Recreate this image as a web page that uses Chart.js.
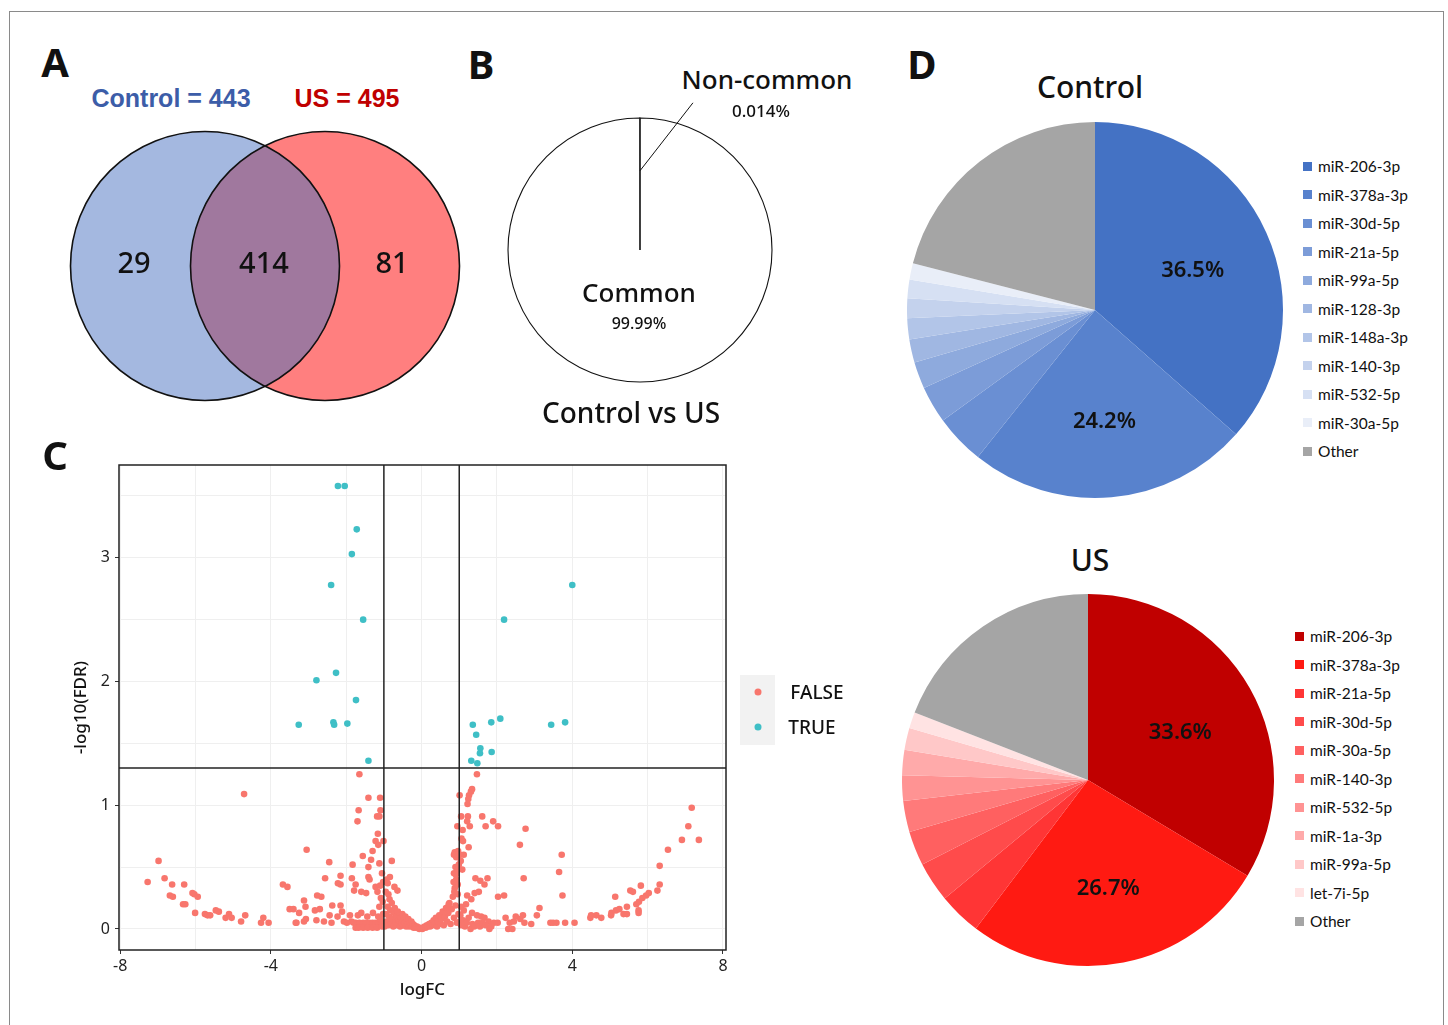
<!DOCTYPE html>
<html>
<head>
<meta charset="utf-8">
<script src="https://cdn.jsdelivr.net/npm/chart.js@4.4.1/dist/chart.umd.min.js"></script>
<style>
  body { margin: 0; width: 1448px; height: 1025px; background: #fff; position: relative; overflow: hidden;
         font-family: 'Noto Sans', sans-serif; color: #111; }
  .frame { position: absolute; left: 9px; top: 11px; width: 1433px; height: 1040px; border: 1px solid #8a8a8a; }
  .t { position: absolute; transform: translate(-50%, -50%); white-space: nowrap; line-height: 1; }
  .panel { font-weight: 700; font-size: 40px; }
  canvas { position: absolute; }
  .pie-legend { position: absolute; font-family: Lato, sans-serif; font-size: 15.5px; color: #111; }
  .pie-legend div { height: 28.5px; display: flex; align-items: center; }
  .pie-legend .sw { width: 9px; height: 9px; margin-right: 6px; display: inline-block; }
  .vol-legend { position: absolute; left: 740px; top: 675px; width: 35px; height: 70px; background: #f2f2f2; }
  .dot { position: absolute; width: 7px; height: 7px; border-radius: 50%; transform: translate(-50%, -50%); }
</style>
</head>
<body>
<div class="frame"></div>

<canvas id="venn" width="450" height="300" style="left:40px; top:116px"></canvas>
<canvas id="share" width="300" height="300" style="left:490px; top:100px"></canvas>
<canvas id="volcano" width="760" height="580" style="left:40px; top:440px"></canvas>
<canvas id="pieControl" width="400" height="400" style="left:895px; top:110px"></canvas>
<canvas id="pieUS" width="400" height="400" style="left:888px; top:580px"></canvas>

<div class="t panel" style="left:55px; top:62px">A</div>
<div class="t panel" style="left:481px; top:64px">B</div>
<div class="t panel" style="left:55px; top:455px">C</div>
<div class="t panel" style="left:922px; top:64px">D</div>

<div class="t" style="left:171px; top:98px; font:700 25px 'Liberation Sans', sans-serif; color:#3c5da8">Control = 443</div>
<div class="t" style="left:347px; top:98px; font:700 25px 'Liberation Sans', sans-serif; color:#c00000">US = 495</div>

<div class="t" style="left:767px; top:79px; font-size:26px; font-weight:500">Non-common</div>
<div class="t" style="left:761px; top:110px; font-size:17px; font-weight:500">0.014%</div>
<div class="t" style="left:639px; top:292px; font-size:26px; font-weight:500">Common</div>
<div class="t" style="left:639px; top:323px; font-size:16px; font-weight:500">99.99%</div>
<div class="t" style="left:631px; top:412px; font-size:28px; font-weight:500">Control vs US</div>

<div class="vol-legend"></div>
<div class="dot" style="left:758px; top:692px; background:#f8766d"></div>
<div class="dot" style="left:758px; top:727px; background:#3fbfc6"></div>
<div class="t" style="left:817px; top:692px; font-size:19px; font-weight:500">FALSE</div>
<div class="t" style="left:812px; top:727px; font-size:19px; font-weight:500">TRUE</div>

<div class="t" style="left:1090px; top:87px; font-size:30px; font-weight:500">Control</div>
<div class="t" style="left:1090px; top:560px; font-size:30px; font-weight:500">US</div>

<div id="legControl" class="pie-legend" style="left:1303px; top:152px"></div>
<div id="legUS" class="pie-legend" style="left:1295px; top:622px"></div>

<script>
// ---- A: Venn of detected miRNAs
const vennCentres = [-60, 60];          // Control, US
const vennCounts = ['29', '414', '81']; // only Control, both, only US
const vennCountX = [-131, -1, 127];

// ---- B: share of common vs non-common reads
const shareLabels = ['Common', 'Non-common'];
const shareValues = [99.986, 0.014];

// ---- C: volcano, [logFC, -log10(FDR)]
const sigPoints = [
  [-2.22, 3.58], [-2.04, 3.58], [-1.72, 3.23], [-1.85, 3.03], [-2.40, 2.78], [-1.55, 2.50],
  [-2.27, 2.07], [-2.79, 2.01], [-1.74, 1.85], [-3.26, 1.65], [-2.34, 1.67], [-2.32, 1.65],
  [-1.97, 1.66], [-1.41, 1.36],
  [2.19, 2.50], [4.00, 2.78], [1.36, 1.65], [1.85, 1.67], [2.09, 1.70], [1.45, 1.57],
  [1.56, 1.46], [1.55, 1.42], [1.86, 1.43], [1.32, 1.36], [1.48, 1.34], [3.44, 1.65], [3.81, 1.67]
];
const notSigPoints = [
  [-7.27, 0.38], [-6.98, 0.55], [-6.82, 0.41], [-6.68, 0.27], [-6.62, 0.36], [-6.60, 0.26],
  [-6.33, 0.20], [-6.30, 0.36], [-6.27, 0.20], [-6.08, 0.29], [-6.03, 0.28], [-6.01, 0.13],
  [-5.94, 0.26], [-5.75, 0.12], [-5.68, 0.11], [-5.61, 0.11], [-5.46, 0.15], [-5.38, 0.14],
  [-5.20, 0.09], [-5.11, 0.12], [-5.04, 0.09], [-4.79, 0.06], [-4.71, 1.09], [-4.68, 0.11],
  [-4.26, 0.05], [-4.20, 0.09], [-4.06, 0.05], [-3.68, 0.36], [-3.56, 0.34], [-3.50, 0.16],
  [-3.40, 0.16], [-3.34, 0.05], [-3.32, 0.05], [-3.25, 0.13], [-3.12, 0.23], [-3.12, 0.06],
  [-3.08, 0.18], [-3.07, 0.08], [-3.05, 0.64], [-2.83, 0.15], [-2.79, 0.07], [-2.77, 0.27],
  [-2.70, 0.16], [-2.66, 0.26], [-2.59, 0.06], [-2.56, 0.41], [-2.45, 0.54], [-2.44, 0.11],
  [-2.39, 0.05], [-2.37, 0.19], [-2.22, 0.37], [-2.15, 0.43], [-2.15, 0.36], [-2.15, 0.19],
  [-2.23, 0.10], [-2.11, 0.14], [-2.06, 0.06], [-1.90, 0.11], [-1.86, 0.06], [-1.75, 0.05],
  [-1.69, 0.11], [-1.60, 0.13], [-1.44, 0.10], [-1.29, 0.13], [-1.98, 0.05], [-1.80, 0.05],
  [-1.65, 0.05], [-1.55, 0.05], [-1.47, 0.05], [-1.38, 0.05], [-1.30, 0.05], [-1.22, 0.05],
  [-1.15, 0.05], [-1.08, 0.05], [-1.75, 0.01], [-1.67, 0.01], [-1.55, 0.01], [-1.43, 0.01],
  [-1.30, 0.01], [-1.18, 0.01], [-1.05, 0.45], [-1.02, 0.38], [-1.08, 0.25], [-1.12, 0.18],
  [-1.03, 0.22], [-1.15, 0.10], [-1.00, 0.05], [-1.05, 0.02], [-1.10, 0.08], [-1.02, 0.12],
  [-1.65, 1.25], [-1.41, 1.06], [-1.10, 1.06], [-1.67, 0.96], [-1.09, 0.96], [-1.70, 0.87],
  [-1.18, 0.91], [-1.12, 0.91], [-1.16, 0.77], [-1.22, 0.71], [-1.01, 0.71], [-1.15, 0.68],
  [-1.30, 0.63], [-1.56, 0.59], [-1.34, 0.56], [-1.83, 0.52], [-1.41, 0.50], [-1.12, 0.53],
  [-1.85, 0.41], [-1.41, 0.42], [-1.75, 0.36], [-1.38, 0.40], [-1.22, 0.34], [-1.10, 0.35],
  [-1.79, 0.31], [-1.60, 0.30], [-1.47, 0.29], [-1.17, 0.30],
  [-0.93, 0.40], [-0.84, 0.42], [-0.79, 0.55], [-0.72, 0.34], [-0.64, 0.31], [-0.90, 0.37],
  [-0.88, 0.28], [-0.85, 0.24], [-0.95, 0.30],
  [-0.98, 0.02], [-0.95, 0.12], [-0.93, 0.06], [-0.90, 0.18], [-0.88, 0.03], [-0.86, 0.10],
  [-0.83, 0.15], [-0.81, 0.05], [-0.79, 0.21], [-0.77, 0.08], [-0.75, 0.02], [-0.73, 0.13],
  [-0.71, 0.17], [-0.69, 0.06], [-0.67, 0.10], [-0.65, 0.03], [-0.63, 0.14], [-0.61, 0.07],
  [-0.59, 0.11], [-0.57, 0.02], [-0.55, 0.09], [-0.53, 0.05], [-0.51, 0.12], [-0.49, 0.03],
  [-0.47, 0.08], [-0.45, 0.05], [-0.43, 0.10], [-0.41, 0.02], [-0.39, 0.06], [-0.37, 0.04],
  [-0.35, 0.08], [-0.33, 0.02], [-0.31, 0.05], [-0.29, 0.03], [-0.27, 0.06], [-0.25, 0.02],
  [-0.23, 0.04], [-0.21, 0.01], [-0.19, 0.03], [-0.17, 0.02], [-0.15, 0.01], [-0.12, 0.02],
  [-0.09, 0.01], [-0.06, 0.00], [-0.03, 0.01],
  [0.02, 0.00], [0.05, 0.01], [0.08, 0.02], [0.11, 0.01], [0.14, 0.03], [0.17, 0.02],
  [0.20, 0.04], [0.23, 0.02], [0.26, 0.05], [0.29, 0.03], [0.32, 0.07], [0.35, 0.04],
  [0.38, 0.09], [0.41, 0.02], [0.44, 0.06], [0.47, 0.11], [0.50, 0.04], [0.53, 0.08],
  [0.56, 0.14], [0.59, 0.03], [0.62, 0.10], [0.65, 0.17], [0.68, 0.06], [0.71, 0.13],
  [0.74, 0.21], [0.77, 0.04], [0.80, 0.16], [0.83, 0.26], [0.86, 0.09], [0.88, 0.33],
  [0.90, 0.19], [0.92, 0.40], [0.94, 0.05], [0.96, 0.28], [0.98, 0.12], [0.72, 0.20],
  [0.87, 0.30], [0.88, 0.62], [0.92, 0.58], [0.97, 0.63], [0.90, 0.50], [0.94, 0.47],
  [0.99, 0.52], [0.86, 0.45], [0.91, 0.44], [0.96, 0.36], [0.85, 0.38], [0.86, 0.60],
  [0.95, 0.60], [1.03, 0.60], [1.12, 0.60], [1.04, 0.55], [1.08, 0.48],
  [1.47, 1.25], [1.34, 1.13], [1.31, 1.11], [1.26, 1.08], [1.01, 1.08], [1.24, 1.05],
  [1.22, 1.01], [1.05, 0.91], [1.23, 0.91], [1.21, 0.87], [1.61, 0.91], [1.90, 0.87],
  [2.03, 0.83], [1.70, 0.83], [1.28, 0.83], [0.95, 0.83], [2.76, 0.81], [1.09, 0.80],
  [1.06, 0.73], [1.10, 0.71], [2.61, 0.68], [1.25, 0.66],
  [1.43, 0.41], [1.56, 0.39], [1.67, 0.36], [1.75, 0.41], [1.21, 0.27], [1.32, 0.24],
  [1.41, 0.29], [1.52, 0.30], [2.03, 0.26], [2.19, 0.27], [2.71, 0.41], [3.13, 0.17],
  [3.06, 0.11], [2.91, 0.04], [1.34, 0.13], [1.47, 0.11], [1.58, 0.10], [1.67, 0.09],
  [1.78, 0.06], [1.92, 0.05], [2.02, 0.05], [1.80, 0.00], [1.03, 0.11], [1.02, 0.06],
  [1.30, 0.00], [2.23, 0.09], [2.34, 0.05], [2.45, 0.06], [2.50, 0.10], [2.62, 0.08],
  [2.69, 0.11], [2.30, 0.00], [2.41, 0.00], [2.73, 0.05],
  [1.05, 0.03], [1.10, 0.07], [1.15, 0.02], [1.20, 0.05], [1.25, 0.09], [1.35, 0.04],
  [1.40, 0.02], [1.50, 0.05], [1.55, 0.02], [1.62, 0.05], [1.70, 0.03], [1.85, 0.02],
  [1.12, 0.15], [1.18, 0.20], [1.05, 0.18],
  [3.72, 0.60], [3.65, 0.46], [3.74, 0.27], [3.42, 0.05], [3.49, 0.05], [3.58, 0.05],
  [3.81, 0.05], [4.06, 0.05], [4.48, 0.09], [4.50, 0.11], [4.64, 0.11], [4.77, 0.09],
  [5.03, 0.11], [5.04, 0.13], [5.16, 0.15], [5.25, 0.16], [5.14, 0.26], [5.36, 0.12],
  [5.45, 0.12], [5.45, 0.18], [5.54, 0.31], [5.61, 0.30], [5.70, 0.20], [5.76, 0.13],
  [5.76, 0.15], [5.77, 0.22], [5.82, 0.35], [5.86, 0.25], [5.96, 0.27], [6.03, 0.29],
  [6.26, 0.31], [6.32, 0.36], [6.32, 0.51], [6.54, 0.64], [6.91, 0.72], [7.08, 0.83],
  [7.17, 0.98], [7.36, 0.72]
];
const fcCut = 1;
const fdrCut = 1.301; // -log10(0.05)
const fcRange = [-8.03, 8.08];
const fdrRange = [-0.17, 3.75];

// ---- D: top-10 miRNA shares (%)
const controlMirs = ['miR-206-3p', 'miR-378a-3p', 'miR-30d-5p', 'miR-21a-5p', 'miR-99a-5p', 'miR-128-3p',
  'miR-148a-3p', 'miR-140-3p', 'miR-532-5p', 'miR-30a-5p', 'Other'];
const controlShares = [36.5, 24.2, 4.3, 3.2, 2.3, 2.0, 1.8, 1.7, 1.6, 1.4, 21.0];
const controlColors = ['#4472c4', '#5882cd', '#6a8fd3', '#7c9cd8', '#8eaadd', '#a0b7e2',
  '#b2c5e8', '#c4d2ed', '#d6e0f3', '#e9eef8', '#a5a5a5'];

const usMirs = ['miR-206-3p', 'miR-378a-3p', 'miR-21a-5p', 'miR-30d-5p', 'miR-30a-5p', 'miR-140-3p',
  'miR-532-5p', 'miR-1a-3p', 'miR-99a-5p', 'let-7i-5p', 'Other'];
const usShares = [33.6, 26.7, 3.7, 3.5, 3.0, 2.7, 2.2, 2.2, 1.9, 1.4, 19.1];
const usColors = ['#c00000', '#ff1a12', '#ff3535', '#ff4b4b', '#ff6060', '#ff7a7a',
  '#ff9393', '#ffaaaa', '#ffc8c8', '#ffe3e3', '#a5a5a5'];

Chart.defaults.animation = false;
Chart.defaults.events = [];
Chart.defaults.plugins.legend.display = false;
Chart.defaults.plugins.tooltip.enabled = false;
Chart.defaults.font.family = "'Noto Sans', sans-serif";

// overlap of the two circles, drawn right after the US fill
const vennLens = {
  id: 'vennLens',
  afterDatasetDraw(chart, args) {
    if (args.index !== 1) return;
    const a = chart.getDatasetMeta(2).data[0];
    const b = chart.getDatasetMeta(1).data[0];
    const ctx = chart.ctx;
    ctx.save();
    ctx.beginPath();
    ctx.arc(a.x, a.y, a.options.radius, 0, Math.PI * 2);
    ctx.clip();
    ctx.beginPath();
    ctx.arc(b.x, b.y, b.options.radius, 0, Math.PI * 2);
    ctx.fillStyle = '#a0789e';
    ctx.fill();
    ctx.restore();
  },
  afterDraw(chart) {
    const ctx = chart.ctx;
    const {x, y} = chart.scales;
    ctx.save();
    ctx.font = "500 29px 'Noto Sans'";
    ctx.fillStyle = '#111';
    ctx.textAlign = 'center';
    ctx.textBaseline = 'middle';
    vennCounts.forEach((c, i) => ctx.fillText(c, x.getPixelForValue(vennCountX[i]), y.getPixelForValue(1)));
    ctx.restore();
  }
};

new Chart(document.getElementById('venn'), {
  type: 'scatter',
  data: {
    datasets: [
      { data: vennCentres.map(c => ({x: c, y: 0})), pointRadius: 134.5, pointBackgroundColor: 'rgba(0,0,0,0)',
        pointBorderColor: '#111', pointBorderWidth: 1.6, order: 0 },
      { data: [{x: vennCentres[1], y: 0}], pointRadius: 134.5, pointBackgroundColor: '#ff7f7f', pointBorderWidth: 0, order: 1 },
      { data: [{x: vennCentres[0], y: 0}], pointRadius: 134.5, pointBackgroundColor: '#a4b8e0', pointBorderWidth: 0, order: 2 }
    ]
  },
  options: {
    responsive: false,
    layout: { autoPadding: false, padding: 0 },
    scales: {
      x: { type: 'linear', min: -225, max: 225, display: false },
      y: { min: -150, max: 150, display: false }
    }
  },
  plugins: [vennLens]
});

// leader line from the thin slice to its label
const leader = {
  id: 'leader',
  afterDraw(chart) {
    const arc = chart.getDatasetMeta(0).data[1];
    const mid = (arc.startAngle + arc.endAngle) / 2;
    const sx = arc.x + Math.cos(mid) * arc.outerRadius * 0.6;
    const sy = arc.y + Math.sin(mid) * arc.outerRadius * 0.6;
    const ctx = chart.ctx;
    ctx.save();
    ctx.strokeStyle = '#111';
    ctx.lineWidth = 1;
    ctx.beginPath();
    ctx.moveTo(sx, sy);
    ctx.lineTo(sx + 53, sy - 68);
    ctx.stroke();
    ctx.restore();
  }
};

new Chart(document.getElementById('share'), {
  type: 'pie',
  data: {
    labels: shareLabels,
    datasets: [{ data: shareValues, backgroundColor: '#fff', borderColor: '#111', borderWidth: 1.1 }]
  },
  options: { responsive: false, radius: 132 },
  plugins: [leader]
});

// box around the panel like ggplot theme_bw
const panelBox = {
  id: 'panelBox',
  afterDraw(chart) {
    const {left, top, width, height} = chart.chartArea;
    const ctx = chart.ctx;
    ctx.save();
    ctx.strokeStyle = '#222';
    ctx.lineWidth = 1.5;
    ctx.strokeRect(left, top, width, height);
    ctx.restore();
  }
};

const cutLine = (pts) => ({
  data: pts.map(([x, y]) => ({x, y})), showLine: true, borderColor: '#222', borderWidth: 1.5,
  pointRadius: 0, order: 0
});

new Chart(document.getElementById('volcano'), {
  type: 'scatter',
  data: {
    datasets: [
      cutLine([[-fcCut, fdrRange[0]], [-fcCut, fdrRange[1]]]),
      cutLine([[fcCut, fdrRange[0]], [fcCut, fdrRange[1]]]),
      cutLine([[fcRange[0], fdrCut], [fcRange[1], fdrCut]]),
      { label: 'TRUE', data: sigPoints.map(([x, y]) => ({x, y})), pointRadius: 3.3,
        pointBackgroundColor: '#3fbfc6', pointBorderWidth: 0, order: 1 },
      { label: 'FALSE', data: notSigPoints.map(([x, y]) => ({x, y})), pointRadius: 3.3,
        pointBackgroundColor: '#f8766d', pointBorderWidth: 0, order: 2 }
    ]
  },
  options: {
    responsive: false,
    layout: { autoPadding: false, padding: { top: 25, right: 74, left: 0, bottom: 0 } },
    scales: {
      x: {
        type: 'linear', min: fcRange[0], max: fcRange[1],
        afterFit: s => { s.height = 70; },
        ticks: { stepSize: 2, includeBounds: false, autoSkip: false, maxRotation: 0, padding: 3,
                 color: '#222', font: { size: 16 }, callback: v => (v % 4 === 0 ? v : '') },
        grid: { color: '#efefef', tickLength: 4,
                tickColor: c => (c.tick && c.tick.value % 4 === 0 ? '#333' : 'rgba(0,0,0,0)') },
        border: { display: false },
        title: { display: true, text: 'logFC', color: '#111', font: { size: 17, weight: '500' }, padding: { top: 0, bottom: 20 } }
      },
      y: {
        min: fdrRange[0], max: fdrRange[1],
        afterFit: s => { s.width = 79; },
        ticks: { stepSize: 0.5, includeBounds: false, autoSkip: false, padding: 5,
                 color: '#222', font: { size: 16 }, callback: v => (Number.isInteger(v) ? v : '') },
        grid: { color: '#efefef', tickLength: 4,
                tickColor: c => (c.tick && Number.isInteger(c.tick.value) ? '#333' : 'rgba(0,0,0,0)') },
        border: { display: false },
        title: { display: true, text: '-log10(FDR)', color: '#111', font: { size: 17, weight: '500' }, padding: { top: 31, bottom: 0 } }
      }
    }
  },
  plugins: [panelBox]
});

// percentage text on the two biggest slices
const sliceLabels = {
  id: 'sliceLabels',
  afterDatasetsDraw(chart, args, opts) {
    const ctx = chart.ctx;
    const meta = chart.getDatasetMeta(0);
    const values = chart.data.datasets[0].data;
    ctx.save();
    ctx.font = "600 22px 'Noto Sans'";
    ctx.fillStyle = '#111';
    ctx.textAlign = 'center';
    ctx.textBaseline = 'middle';
    meta.data.slice(0, opts.count).forEach((arc, i) => {
      const mid = (arc.startAngle + arc.endAngle) / 2;
      const r = arc.outerRadius * opts.at;
      ctx.fillText(values[i].toFixed(1) + '%', arc.x + Math.cos(mid) * r, arc.y + Math.sin(mid) * r + opts.dy);
    });
    ctx.restore();
  }
};

function mirPie(id, labels, values, colors, radius) {
  new Chart(document.getElementById(id), {
    type: 'pie',
    data: { labels, datasets: [{ data: values, backgroundColor: colors, borderWidth: 0 }] },
    options: { responsive: false, radius, plugins: { sliceLabels: { count: 2, at: 0.57, dy: 5 } } },
    plugins: [sliceLabels]
  });
}

function pieLegend(id, labels, colors) {
  const box = document.getElementById(id);
  labels.forEach((name, i) => {
    const row = document.createElement('div');
    row.innerHTML = `<span class="sw" style="background:${colors[i]}"></span>${name}`;
    box.appendChild(row);
  });
}

mirPie('pieControl', controlMirs, controlShares, controlColors, 188);
mirPie('pieUS', usMirs, usShares, usColors, 186);
pieLegend('legControl', controlMirs, controlColors);
pieLegend('legUS', usMirs, usColors);
</script>
</body>
</html>
